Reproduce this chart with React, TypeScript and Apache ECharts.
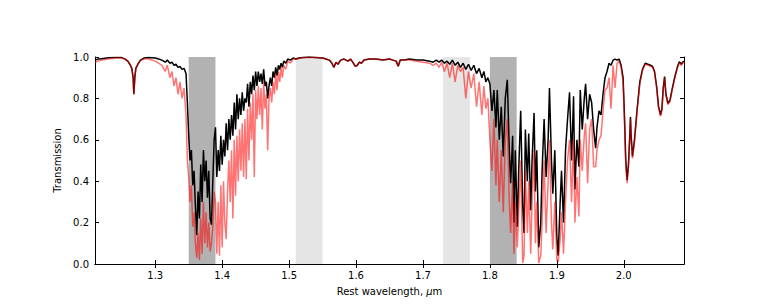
import { useEffect, useRef } from "react";
import * as echarts from "echarts";

// [wavelength (µm), transmission]
const blackSpectrum: [number, number][] = [
  [1.210, 0.985], [1.215, 0.99], [1.22, 0.992], [1.23, 0.996], [1.24, 0.998], [1.25, 0.997],
  [1.255, 0.99], [1.259, 0.98], [1.262, 0.965], [1.265, 0.945], [1.267, 0.9], [1.268, 0.82],
  [1.2695, 0.9], [1.271, 0.945], [1.274, 0.965], [1.278, 0.985], [1.283, 0.995], [1.29, 0.998],
  [1.30, 0.995], [1.305, 0.99], [1.31, 0.985], [1.315, 0.975], [1.318, 0.985], [1.322, 0.97],
  [1.325, 0.975], [1.328, 0.96], [1.331, 0.965], [1.334, 0.95], [1.337, 0.955], [1.340, 0.94],
  [1.343, 0.945], [1.346, 0.92],
  [1.348, 0.78], [1.350, 0.62], [1.352, 0.5], [1.354, 0.55], [1.356, 0.38], [1.358, 0.45],
  [1.360, 0.28], [1.362, 0.14], [1.364, 0.35], [1.366, 0.22], [1.368, 0.48], [1.370, 0.3],
  [1.372, 0.55], [1.374, 0.4], [1.376, 0.5], [1.378, 0.32], [1.380, 0.45], [1.382, 0.22],
  [1.384, 0.19], [1.386, 0.4], [1.388, 0.6], [1.390, 0.66], [1.392, 0.42], [1.394, 0.55],
  [1.396, 0.45], [1.398, 0.62], [1.400, 0.48], [1.402, 0.6], [1.404, 0.52], [1.406, 0.68],
  [1.408, 0.55], [1.410, 0.7], [1.412, 0.6], [1.414, 0.72], [1.416, 0.62], [1.418, 0.78],
  [1.420, 0.65], [1.422, 0.82], [1.424, 0.7], [1.426, 0.8], [1.428, 0.72], [1.430, 0.83],
  [1.432, 0.74], [1.434, 0.8], [1.436, 0.78], [1.438, 0.87], [1.440, 0.76], [1.442, 0.88],
  [1.444, 0.82], [1.446, 0.91], [1.448, 0.84], [1.450, 0.93], [1.452, 0.86], [1.454, 0.93],
  [1.456, 0.88], [1.458, 0.92], [1.460, 0.87], [1.462, 0.94], [1.464, 0.86], [1.466, 0.88],
  [1.468, 0.8], [1.470, 0.86], [1.472, 0.9], [1.474, 0.86], [1.476, 0.93], [1.478, 0.9],
  [1.480, 0.95], [1.482, 0.91], [1.484, 0.96], [1.486, 0.94], [1.488, 0.97], [1.490, 0.95],
  [1.492, 0.98], [1.495, 0.97], [1.498, 0.99], [1.502, 0.985], [1.506, 0.995], [1.510, 0.99],
  [1.515, 0.995], [1.52, 0.998], [1.53, 1.0], [1.54, 0.998], [1.55, 0.995], [1.555, 0.99],
  [1.56, 0.985], [1.564, 0.97], [1.567, 0.95], [1.570, 0.975], [1.573, 0.965], [1.577, 0.985],
  [1.582, 0.99], [1.588, 0.98], [1.592, 0.99], [1.596, 0.97], [1.599, 0.955], [1.602, 0.96],
  [1.605, 0.975], [1.608, 0.97], [1.612, 0.985], [1.62, 0.99], [1.63, 0.99], [1.64, 0.985],
  [1.65, 0.99], [1.655, 0.985], [1.66, 0.98], [1.663, 0.955], [1.666, 0.985], [1.672, 0.985],
  [1.68, 0.99], [1.69, 0.985], [1.70, 0.985], [1.71, 0.98], [1.715, 0.975],
  [1.720, 0.985], [1.724, 0.975], [1.728, 0.985], [1.732, 0.97], [1.736, 0.98], [1.740, 0.965],
  [1.744, 0.985], [1.748, 0.96], [1.752, 0.975], [1.756, 0.95], [1.760, 0.97], [1.764, 0.94],
  [1.768, 0.965], [1.772, 0.935], [1.776, 0.96], [1.780, 0.92], [1.784, 0.945], [1.788, 0.9],
  [1.791, 0.93], [1.794, 0.88], [1.797, 0.9], [1.800, 0.87], [1.803, 0.74], [1.806, 0.84],
  [1.809, 0.66], [1.811, 0.84], [1.814, 0.6], [1.817, 0.76], [1.820, 0.52], [1.823, 0.8],
  [1.826, 0.89], [1.829, 0.55], [1.831, 0.39], [1.834, 0.62], [1.836, 0.2], [1.838, 0.55],
  [1.841, 0.18], [1.843, 0.45], [1.846, 0.74], [1.849, 0.28], [1.851, 0.15], [1.853, 0.65],
  [1.856, 0.4], [1.858, 0.63], [1.861, 0.26], [1.863, 0.5], [1.866, 0.73], [1.868, 0.35],
  [1.870, 0.55], [1.873, 0.08], [1.876, 0.2], [1.878, 0.45], [1.881, 0.7], [1.884, 0.42],
  [1.887, 0.6], [1.889, 0.85], [1.892, 0.5], [1.894, 0.34], [1.897, 0.55], [1.900, 0.13],
  [1.902, 0.04], [1.905, 0.3], [1.907, 0.45], [1.910, 0.2], [1.913, 0.55], [1.916, 0.7],
  [1.919, 0.83], [1.922, 0.5], [1.925, 0.81], [1.927, 0.36], [1.930, 0.6], [1.933, 0.47],
  [1.935, 0.84], [1.938, 0.65], [1.941, 0.8], [1.943, 0.87], [1.946, 0.7], [1.949, 0.82],
  [1.952, 0.78], [1.955, 0.65], [1.958, 0.56], [1.960, 0.66], [1.963, 0.74], [1.966, 0.72],
  [1.969, 0.82], [1.972, 0.9], [1.975, 0.93], [1.978, 0.97], [1.981, 0.96], [1.984, 0.985],
  [1.987, 0.99], [1.990, 0.985], [1.993, 0.99], [1.996, 0.96], [1.999, 0.9], [2.001, 0.72],
  [2.003, 0.5], [2.005, 0.405], [2.007, 0.48], [2.009, 0.62], [2.010, 0.71], [2.011, 0.62],
  [2.013, 0.52], [2.016, 0.6], [2.020, 0.75], [2.024, 0.88], [2.028, 0.94], [2.032, 0.97],
  [2.036, 0.965], [2.040, 0.96], [2.043, 0.955], [2.046, 0.93], [2.049, 0.86], [2.052, 0.76],
  [2.055, 0.72], [2.057, 0.75], [2.059, 0.85], [2.061, 0.905], [2.063, 0.82], [2.066, 0.776],
  [2.069, 0.79], [2.072, 0.84], [2.076, 0.9], [2.080, 0.95], [2.083, 0.977], [2.086, 0.965],
  [2.088, 0.975], [2.091, 0.98],
];

const redSpectrum: [number, number][] = [
  [1.210, 0.975], [1.215, 0.98], [1.22, 0.985], [1.23, 0.99], [1.24, 0.995], [1.25, 0.995],
  [1.255, 0.99], [1.259, 0.98], [1.262, 0.965], [1.265, 0.945], [1.267, 0.9], [1.268, 0.82],
  [1.2695, 0.9], [1.271, 0.945], [1.274, 0.965], [1.278, 0.985], [1.283, 0.99], [1.29, 0.99],
  [1.30, 0.98], [1.305, 0.97], [1.31, 0.96], [1.315, 0.93], [1.318, 0.96], [1.322, 0.9],
  [1.325, 0.93], [1.328, 0.86], [1.331, 0.9], [1.334, 0.82], [1.337, 0.88], [1.340, 0.8],
  [1.343, 0.85], [1.346, 0.72],
  [1.348, 0.5], [1.350, 0.42], [1.352, 0.3], [1.354, 0.38], [1.356, 0.18], [1.358, 0.25],
  [1.360, 0.1], [1.362, 0.03], [1.364, 0.15], [1.366, 0.02], [1.368, 0.22], [1.370, 0.05],
  [1.372, 0.3], [1.374, 0.1], [1.376, 0.25], [1.378, 0.08], [1.380, 0.2], [1.382, 0.06],
  [1.384, 0.1], [1.386, 0.18], [1.388, 0.35], [1.390, 0.3], [1.392, 0.05], [1.394, 0.3],
  [1.396, 0.04], [1.398, 0.38], [1.400, 0.08], [1.402, 0.4], [1.404, 0.2], [1.406, 0.12],
  [1.408, 0.35], [1.410, 0.5], [1.412, 0.3], [1.414, 0.55], [1.416, 0.22], [1.418, 0.6],
  [1.420, 0.33], [1.422, 0.62], [1.424, 0.4], [1.426, 0.65], [1.428, 0.45], [1.430, 0.68],
  [1.432, 0.42], [1.434, 0.7], [1.436, 0.41], [1.438, 0.75], [1.440, 0.5], [1.442, 0.78],
  [1.444, 0.6], [1.446, 0.82], [1.448, 0.42], [1.450, 0.84], [1.452, 0.7], [1.454, 0.86],
  [1.456, 0.72], [1.458, 0.85], [1.460, 0.65], [1.462, 0.88], [1.464, 0.75], [1.466, 0.82],
  [1.468, 0.55], [1.470, 0.8], [1.472, 0.85], [1.474, 0.78], [1.476, 0.88], [1.478, 0.82],
  [1.480, 0.92], [1.482, 0.84], [1.484, 0.93], [1.486, 0.88], [1.488, 0.95], [1.490, 0.9],
  [1.492, 0.96], [1.495, 0.94], [1.498, 0.98], [1.502, 0.97], [1.506, 0.99], [1.510, 0.99],
  [1.515, 0.993], [1.52, 0.996], [1.53, 0.998], [1.54, 0.997], [1.55, 0.995], [1.555, 0.99],
  [1.56, 0.985], [1.564, 0.97], [1.567, 0.95], [1.570, 0.975], [1.573, 0.965], [1.577, 0.985],
  [1.582, 0.99], [1.588, 0.98], [1.592, 0.99], [1.596, 0.97], [1.599, 0.955], [1.602, 0.96],
  [1.605, 0.975], [1.608, 0.97], [1.612, 0.985], [1.62, 0.99], [1.63, 0.99], [1.64, 0.985],
  [1.65, 0.99], [1.655, 0.985], [1.66, 0.98], [1.663, 0.955], [1.666, 0.985], [1.672, 0.985],
  [1.68, 0.985], [1.69, 0.98], [1.70, 0.975], [1.71, 0.97], [1.715, 0.96],
  [1.720, 0.97], [1.724, 0.95], [1.728, 0.975], [1.732, 0.93], [1.736, 0.97], [1.740, 0.9],
  [1.744, 0.97], [1.748, 0.88], [1.752, 0.96], [1.756, 0.93], [1.760, 0.95], [1.764, 0.8],
  [1.768, 0.93], [1.772, 0.85], [1.776, 0.92], [1.780, 0.76], [1.784, 0.88], [1.788, 0.72],
  [1.791, 0.86], [1.794, 0.75], [1.797, 0.8], [1.800, 0.6], [1.803, 0.45], [1.806, 0.7],
  [1.809, 0.38], [1.811, 0.6], [1.814, 0.3], [1.817, 0.55], [1.820, 0.25], [1.823, 0.6],
  [1.826, 0.7], [1.829, 0.3], [1.831, 0.15], [1.834, 0.4], [1.836, 0.05], [1.838, 0.3],
  [1.841, 0.08], [1.843, 0.25], [1.846, 0.5], [1.849, 0.005], [1.851, 0.04], [1.853, 0.45],
  [1.856, 0.15], [1.858, 0.4], [1.861, 0.05], [1.863, 0.3], [1.866, 0.55], [1.868, 0.1],
  [1.870, 0.3], [1.873, 0.005], [1.876, 0.04], [1.878, 0.2], [1.881, 0.5], [1.884, 0.15],
  [1.887, 0.4], [1.889, 0.6], [1.892, 0.2], [1.894, 0.07], [1.897, 0.3], [1.900, 0.02],
  [1.902, 0.01], [1.905, 0.12], [1.907, 0.25], [1.910, 0.05], [1.913, 0.3], [1.916, 0.5],
  [1.919, 0.6], [1.922, 0.3], [1.925, 0.6], [1.927, 0.2], [1.930, 0.42], [1.933, 0.23],
  [1.935, 0.6], [1.938, 0.45], [1.941, 0.62], [1.943, 0.68], [1.946, 0.39], [1.949, 0.65],
  [1.952, 0.7], [1.955, 0.47], [1.958, 0.47], [1.960, 0.55], [1.963, 0.6], [1.966, 0.62],
  [1.969, 0.74], [1.972, 0.84], [1.975, 0.85], [1.978, 0.9], [1.981, 0.75], [1.984, 0.96],
  [1.987, 0.85], [1.990, 0.97], [1.993, 0.98], [1.996, 0.95], [1.999, 0.88], [2.001, 0.7],
  [2.003, 0.48], [2.005, 0.39], [2.007, 0.47], [2.009, 0.61], [2.010, 0.7], [2.011, 0.61],
  [2.013, 0.51], [2.016, 0.59], [2.020, 0.74], [2.024, 0.87], [2.028, 0.935], [2.032, 0.965],
  [2.036, 0.96], [2.040, 0.955], [2.043, 0.95], [2.046, 0.925], [2.049, 0.855], [2.052, 0.755],
  [2.055, 0.715], [2.057, 0.745], [2.059, 0.845], [2.061, 0.9], [2.063, 0.815], [2.066, 0.77],
  [2.069, 0.785], [2.072, 0.835], [2.076, 0.895], [2.080, 0.945], [2.083, 0.972], [2.086, 0.96],
  [2.088, 0.97], [2.091, 0.975],
];

const darkBands: [number, number][] = [[1.35, 1.39], [1.80, 1.84]];
const lightBands: [number, number][] = [[1.51, 1.55], [1.73, 1.77]];
const xTicks = [1.3, 1.4, 1.5, 1.6, 1.7, 1.8, 1.9, 2.0];
const xRange: [number, number] = [1.21, 2.09];

const FONT = "DejaVu Sans";

export default function App() {
  const ref = useRef<HTMLDivElement>(null);
  useEffect(() => {
    const chart = echarts.init(ref.current!, null, { renderer: "svg" });
    const axisLine = { show: true, lineStyle: { color: "#000", width: 1 } };
    const tickStyle = { inside: true, length: 4, lineStyle: { color: "#000", width: 1 } };
    const bandData = [
      ...darkBands.map(([a, b]) => [
        { xAxis: a, itemStyle: { color: "#b2b2b2" } },
        { xAxis: b },
      ]),
      ...lightBands.map(([a, b]) => [
        { xAxis: a, itemStyle: { color: "#e5e5e5" } },
        { xAxis: b },
      ]),
    ];
    chart.setOption({
      animation: false,
      backgroundColor: "#fff",
      grid: { left: 95, right: 76, top: 57, bottom: 44 },
      xAxis: [
        {
          type: "value",
          min: xRange[0],
          max: xRange[1],
          axisLine,
          axisTick: { ...tickStyle, customValues: xTicks },
          axisLabel: {
            customValues: xTicks,
            formatter: (v: number) => v.toFixed(1),
            color: "#000",
            fontSize: 10,
            fontFamily: FONT,
            margin: 6,
          },
          splitLine: { show: false },
          name: "Rest wavelength, {it|μ}m",
          nameLocation: "middle",
          nameGap: 22,
          nameTextStyle: {
            color: "#000",
            fontSize: 10,
            fontFamily: FONT,
            rich: { it: { fontStyle: "italic", fontSize: 10, fontFamily: FONT, color: "#000" } },
          },
        },
        {
          type: "value",
          position: "top",
          min: xRange[0],
          max: xRange[1],
          axisLine,
          axisTick: { ...tickStyle, customValues: xTicks },
          axisLabel: { show: false },
          splitLine: { show: false },
        },
      ],
      yAxis: [
        {
          type: "value",
          min: 0,
          max: 1,
          interval: 0.2,
          axisLine,
          axisTick: tickStyle,
          axisLabel: {
            formatter: (v: number) => v.toFixed(1),
            color: "#000",
            fontSize: 10,
            fontFamily: FONT,
            margin: 6,
          },
          splitLine: { show: false },
          name: "Transmission",
          nameLocation: "middle",
          nameGap: 26,
          nameTextStyle: { color: "#000", fontSize: 10, fontFamily: FONT },
        },
        {
          type: "value",
          position: "right",
          min: 0,
          max: 1,
          interval: 0.2,
          axisLine,
          axisTick: tickStyle,
          axisLabel: { show: false },
          splitLine: { show: false },
        },
      ],
      series: [
        {
          type: "line",
          name: "black",
          data: blackSpectrum,
          showSymbol: false,
          symbol: "none",
          lineStyle: { color: "#000", width: 1.5 },
          z: 2,
          markArea: { silent: true, data: bandData },
        },
        {
          type: "line",
          name: "red",
          data: redSpectrum,
          showSymbol: false,
          symbol: "none",
          lineStyle: { color: "rgba(255,0,0,0.55)", width: 1.5 },
          z: 3,
        },
      ],
    });
    return () => chart.dispose();
  }, []);
  return (
    <div
      ref={ref}
      style={{ position: "absolute", left: 0, top: 0, width: 760, height: 308 }}
    />
  );
}
